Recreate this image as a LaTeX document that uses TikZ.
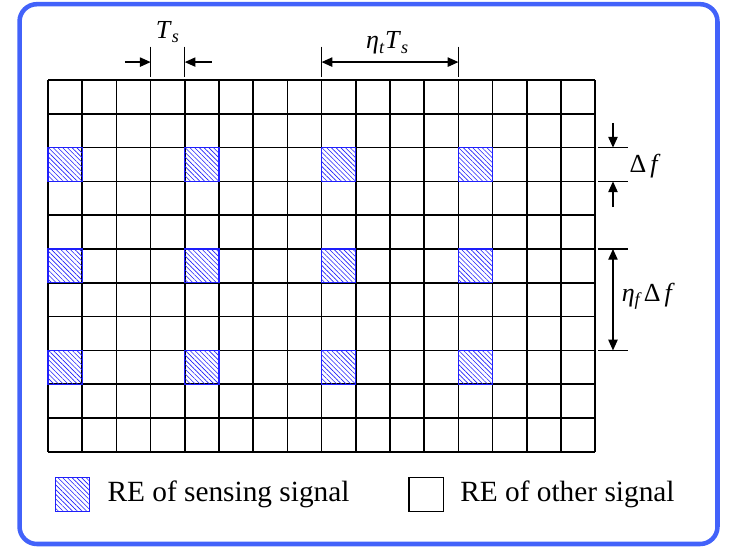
\documentclass[tikz,border=0pt]{standalone}
\usepackage{fontspec}
\setmainfont{Liberation Serif}
\usetikzlibrary{arrows.meta,patterns.meta,positioning}

\definecolor{frameblue}{RGB}{66,98,250}
\definecolor{senseblue}{RGB}{30,30,250}

\tikzset{
    gridline/.style={line width=1.1pt},
    sensing/.style={draw=senseblue, line width=0.9pt,
        pattern={Lines[angle=-45,distance=2.5pt,line width=0.45pt]},
        pattern color=senseblue},
    otherbox/.style={draw, line width=1.1pt, minimum width=25.6pt,
        minimum height=25.4pt, inner sep=0pt},
    dimline/.style={line width=0.9pt},
    dimarrow/.style={line width=0.9pt, -{Triangle[length=8pt,width=7pt]}},
    dimboth/.style={line width=0.9pt,
        {Triangle[length=8pt,width=7pt]}-{Triangle[length=8pt,width=7pt]}},
    dimlabel/.style={font=\fontsize{19.5}{22}\selectfont, inner sep=0pt},
    legendtext/.style={font=\fontsize{22}{26}\selectfont, inner sep=0pt},
}

\begin{document}
\begin{tikzpicture}[x=25.65pt, y=-25.35pt]
    \useasboundingbox (-1.404,-2.367) rectangle (20.088,13.817);

    % Frame
    \draw[frameblue, line width=3.4pt, rounded corners=13pt]
        (-0.833,-2.243) rectangle (19.576,13.728);

    % Resource grid
    \foreach \i in {0,...,16}
        \draw[gridline] (\i,0) -- (\i,11);
    \foreach \j in {0,...,11}
        \draw[gridline] (0,\j) -- (16,\j);

    % Sensing REs
    \foreach \c in {0,4,8,12}
        \foreach \r in {2,5,8}
            \draw[sensing] (\c,\r) rectangle ++(1,1);

    % T_s spacing
    \coordinate (tsl) at (3,-0.53);
    \coordinate (tsr) at (4,-0.53);
    \coordinate (tslout) at (2.25,-0.53);
    \coordinate (tsrout) at (4.79,-0.53);
    \draw[dimline] (3,-0.985) -- (3,-0.1);
    \draw[dimline] (4,-0.985) -- (4,-0.1);
    \draw[dimarrow] (tslout) -- (tsl);
    \draw[dimarrow] (tsrout) -- (tsr);
    \node[dimlabel, anchor=base] (ts) at (3.5,-1.24)
        {\textit{T}\textsubscript{\textit{s}}};

    % eta_t T_s spacing
    \coordinate (etl) at (8,-0.53);
    \coordinate (etr) at (12,-0.53);
    \draw[dimline] (8,-0.985) -- (8,-0.1);
    \draw[dimline] (12,-0.985) -- (12,-0.1);
    \draw[dimboth] (etl) -- (etr);
    \node[dimlabel, anchor=base] (etats) at (9.93,-0.92)
        {\textit{η}\textsubscript{\textit{t}}\textit{T}\textsubscript{\textit{s}}};

    % Delta f spacing
    \coordinate (dft) at (16.52,2);
    \coordinate (dfb) at (16.52,3);
    \coordinate (dftout) at (16.52,1.27);
    \coordinate (dfbout) at (16.52,3.76);
    \draw[dimline] (16.08,2) -- (16.96,2);
    \draw[dimline] (16.08,3) -- (16.96,3);
    \draw[dimarrow] (dftout) -- (dft);
    \draw[dimarrow] (dfbout) -- (dfb);
    \node[dimlabel, anchor=base west] (df) at (17.0,2.75)
        {Δ\hspace{3pt}\textit{f}};

    % eta_f Delta f spacing
    \coordinate (eft) at (16.52,5);
    \coordinate (efb) at (16.52,8);
    \draw[dimline] (16.08,5) -- (16.96,5);
    \draw[dimline] (16.08,8) -- (16.96,8);
    \draw[dimboth] (eft) -- (efb);
    \node[dimlabel, anchor=base west] (etadf) at (16.77,6.56)
        {\textit{η}\textsubscript{\textit{f}}\hspace{1pt}Δ\hspace{3pt}\textit{f}};

    % Legend
    \node[otherbox, sensing] (legsense) at (0.71,12.26) {};
    \node[legendtext, right=13pt of legsense] (legsensetxt) {RE of sensing signal};
    \node[otherbox] (legother) at (11.06,12.26) {};
    \node[legendtext, right=12pt of legother] (legothertxt) {RE of other signal};
\end{tikzpicture}
\end{document}
